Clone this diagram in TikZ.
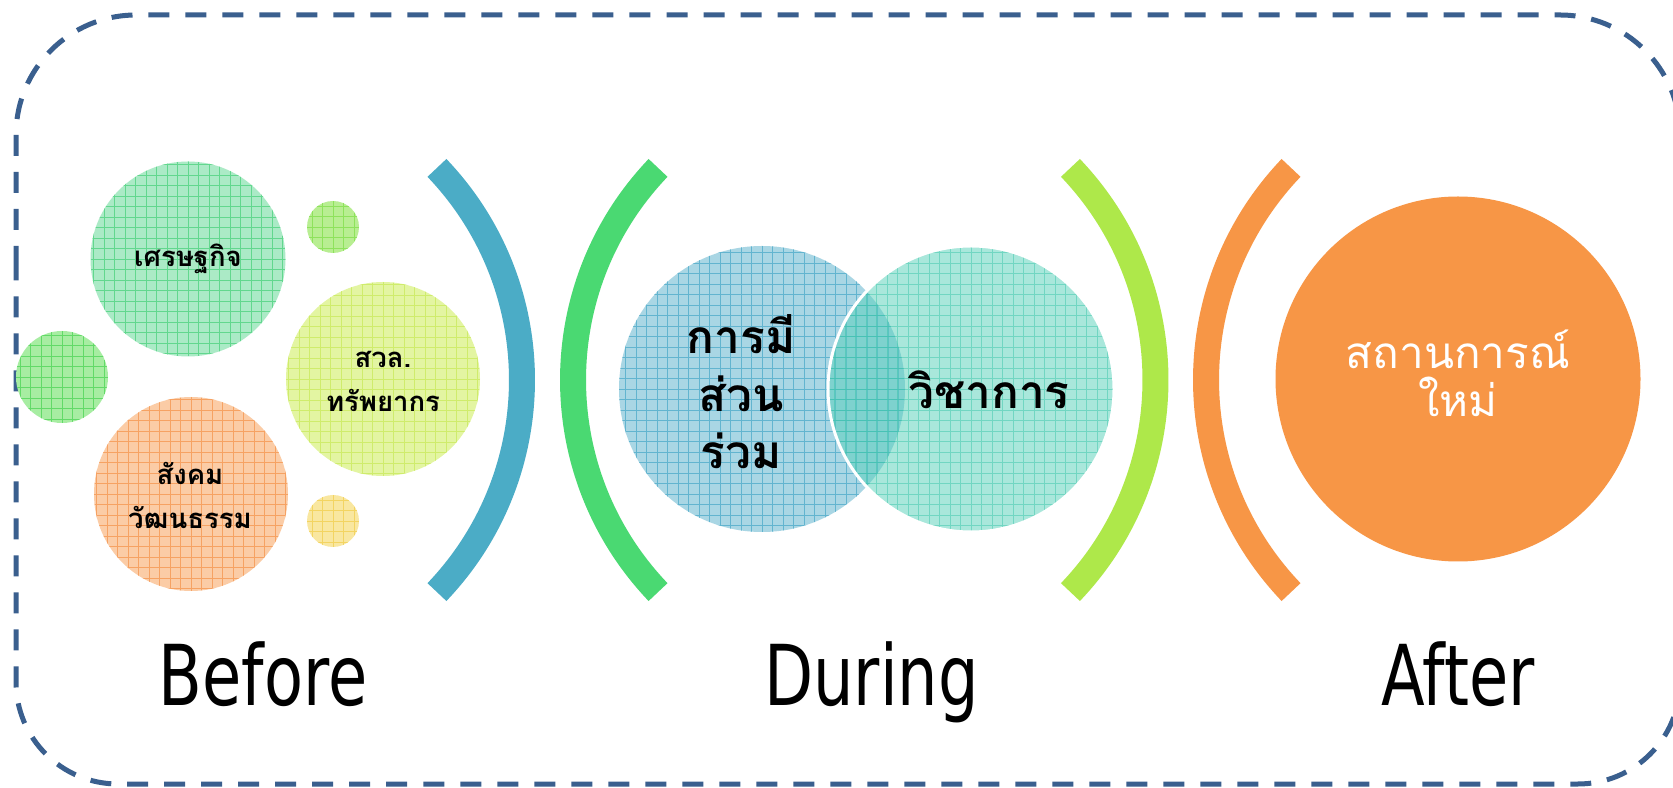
\documentclass[tikz,border=0pt]{standalone}
\usepackage{fontspec}
\newfontfamily\thai[Script=Thai]{Loma}
\newfontfamily\lat[FakeStretch=0.76]{DejaVu Sans}
\definecolor{bordercol}{HTML}{3A5F8E}
\definecolor{arcblue}{HTML}{4BACC6}
\definecolor{arcgreen}{HTML}{4AD972}
\definecolor{arclime}{HTML}{AEE84A}
\definecolor{arcorange}{HTML}{F79646}
\definecolor{mintfill}{HTML}{ABEAC6}
\definecolor{mintline}{HTML}{62D78E}
\definecolor{limefill}{HTML}{B8EE92}
\definecolor{limeline}{HTML}{8EE25C}
\definecolor{greenfill}{HTML}{A7EDA2}
\definecolor{greenline}{HTML}{62DA68}
\definecolor{yelgfill}{HTML}{E3F5A2}
\definecolor{yelgline}{HTML}{CFEC6C}
\definecolor{orfill}{HTML}{FBCCA6}
\definecolor{orline}{HTML}{F6A263}
\definecolor{yelfill}{HTML}{F9E7A0}
\definecolor{yelline}{HTML}{F3D462}
\definecolor{bluefill}{HTML}{A9D6E4}
\definecolor{blueline}{HTML}{62B4CF}
\definecolor{tealfill}{HTML}{55D0B9}
\definecolor{tealline}{HTML}{2FC2A4}
\tikzset{
  bubble/.style 2 args={circle, inner sep=0pt, fill=#1,
    path picture={\draw[#2, line width=0.65pt] (path picture bounding box.south west) grid[step=10.5pt] (path picture bounding box.north east);}},
  bracket/.style={line width=26pt, line cap=butt},
  stage/.style={font=\lat\fontsize{84}{100}\selectfont, anchor=base, inner sep=0pt},
  smalltxt/.style={font=\thai\bfseries\fontsize{27.5}{44}\selectfont, align=center, inner sep=0pt},
  bigtxt/.style={font=\thai\bfseries\fontsize{46}{57.5}\selectfont, align=center, inner sep=0pt},
  border/.style={draw=bordercol, line width=5pt, dash pattern=on 21pt off 16pt}
}
\begin{document}
\begin{tikzpicture}[x=1pt, y=1pt]
\useasboundingbox (0,0) rectangle (1673,787);
\clip (0,0) rectangle (1673,787);
\fill[white] (0,0) rectangle (1673,787);

% dashed frame
\draw[border] (16,400) [rounded corners=120pt] -- (16,772) -- (1680,772)
  [rounded corners=102pt] -- (1680,3) -- (16,3) [rounded corners=120pt] -- cycle;

% Before bubbles
\node[bubble={mintfill}{mintline}, minimum size=195pt] (econ) at (188,528) {};
\node[bubble={limefill}{limeline}, minimum size=52pt] (dotA) at (333,560) {};
\node[bubble={greenfill}{greenline}, minimum size=92pt] (dotB) at (62,410) {};
\node[bubble={yelgfill}{yelgline}, minimum size=194pt] (env) at (383,408) {};
\node[bubble={orfill}{orline}, minimum size=194pt] (soc) at (191,293) {};
\node[bubble={yelfill}{yelline}, minimum size=52pt] (dotC) at (333,266) {};
\node[smalltxt] (econT) at (econ.center) {เศรษฐกิจ};
\node[smalltxt] (envT) at (383,406) {สวล.\\ทรัพยากร};
\node[smalltxt] (socT) at (190,292) {สังคม\\วัฒนธรรม};

% brackets
\draw[bracket, arcblue] (215,407) ++(-43.7:307) arc[start angle=-43.7, end angle=43.7, radius=307];
\draw[bracket, arcgreen] (880,407) ++(136.3:307) arc[start angle=136.3, end angle=223.7, radius=307];
\draw[bracket, arclime] (848.5,407) ++(-43.7:307) arc[start angle=-43.7, end angle=43.7, radius=307];
\draw[bracket, arcorange] (1513,407) ++(136.3:307) arc[start angle=136.3, end angle=223.7, radius=307];

% During venn
\node[bubble={bluefill}{blueline}, minimum size=286pt] (part) at (762,398) {};
\node[circle, inner sep=0pt, minimum size=286pt, fill=tealfill, fill opacity=0.5, draw=white, draw opacity=1, line width=3pt,
  path picture={\draw[tealline, line width=0.65pt, draw opacity=0.45] (path picture bounding box.south west) grid[step=10.5pt] (path picture bounding box.north east);}] (acad) at (971,398) {};
\node[bigtxt] (partT) at (741,395) {การมี\\ส่วน\\ร่วม};
\node[bigtxt] (acadT) at (989,397) {วิชาการ};

% After
\node[circle, inner sep=0pt, minimum size=365pt, fill=arcorange] (new) at (1458,408) {};
\node[font=\thai\fontsize{44}{48}\selectfont, text=white, align=center, inner sep=0pt] (newT) at (1458,414) {สถานการณ์\\ใหม่};

% stage labels
\node[stage] (before) at (263,81) {Before};
\node[stage] (during) at (871.5,81) {During};
\node[stage] (after) at (1458,81) {After};
\end{tikzpicture}
\end{document}
